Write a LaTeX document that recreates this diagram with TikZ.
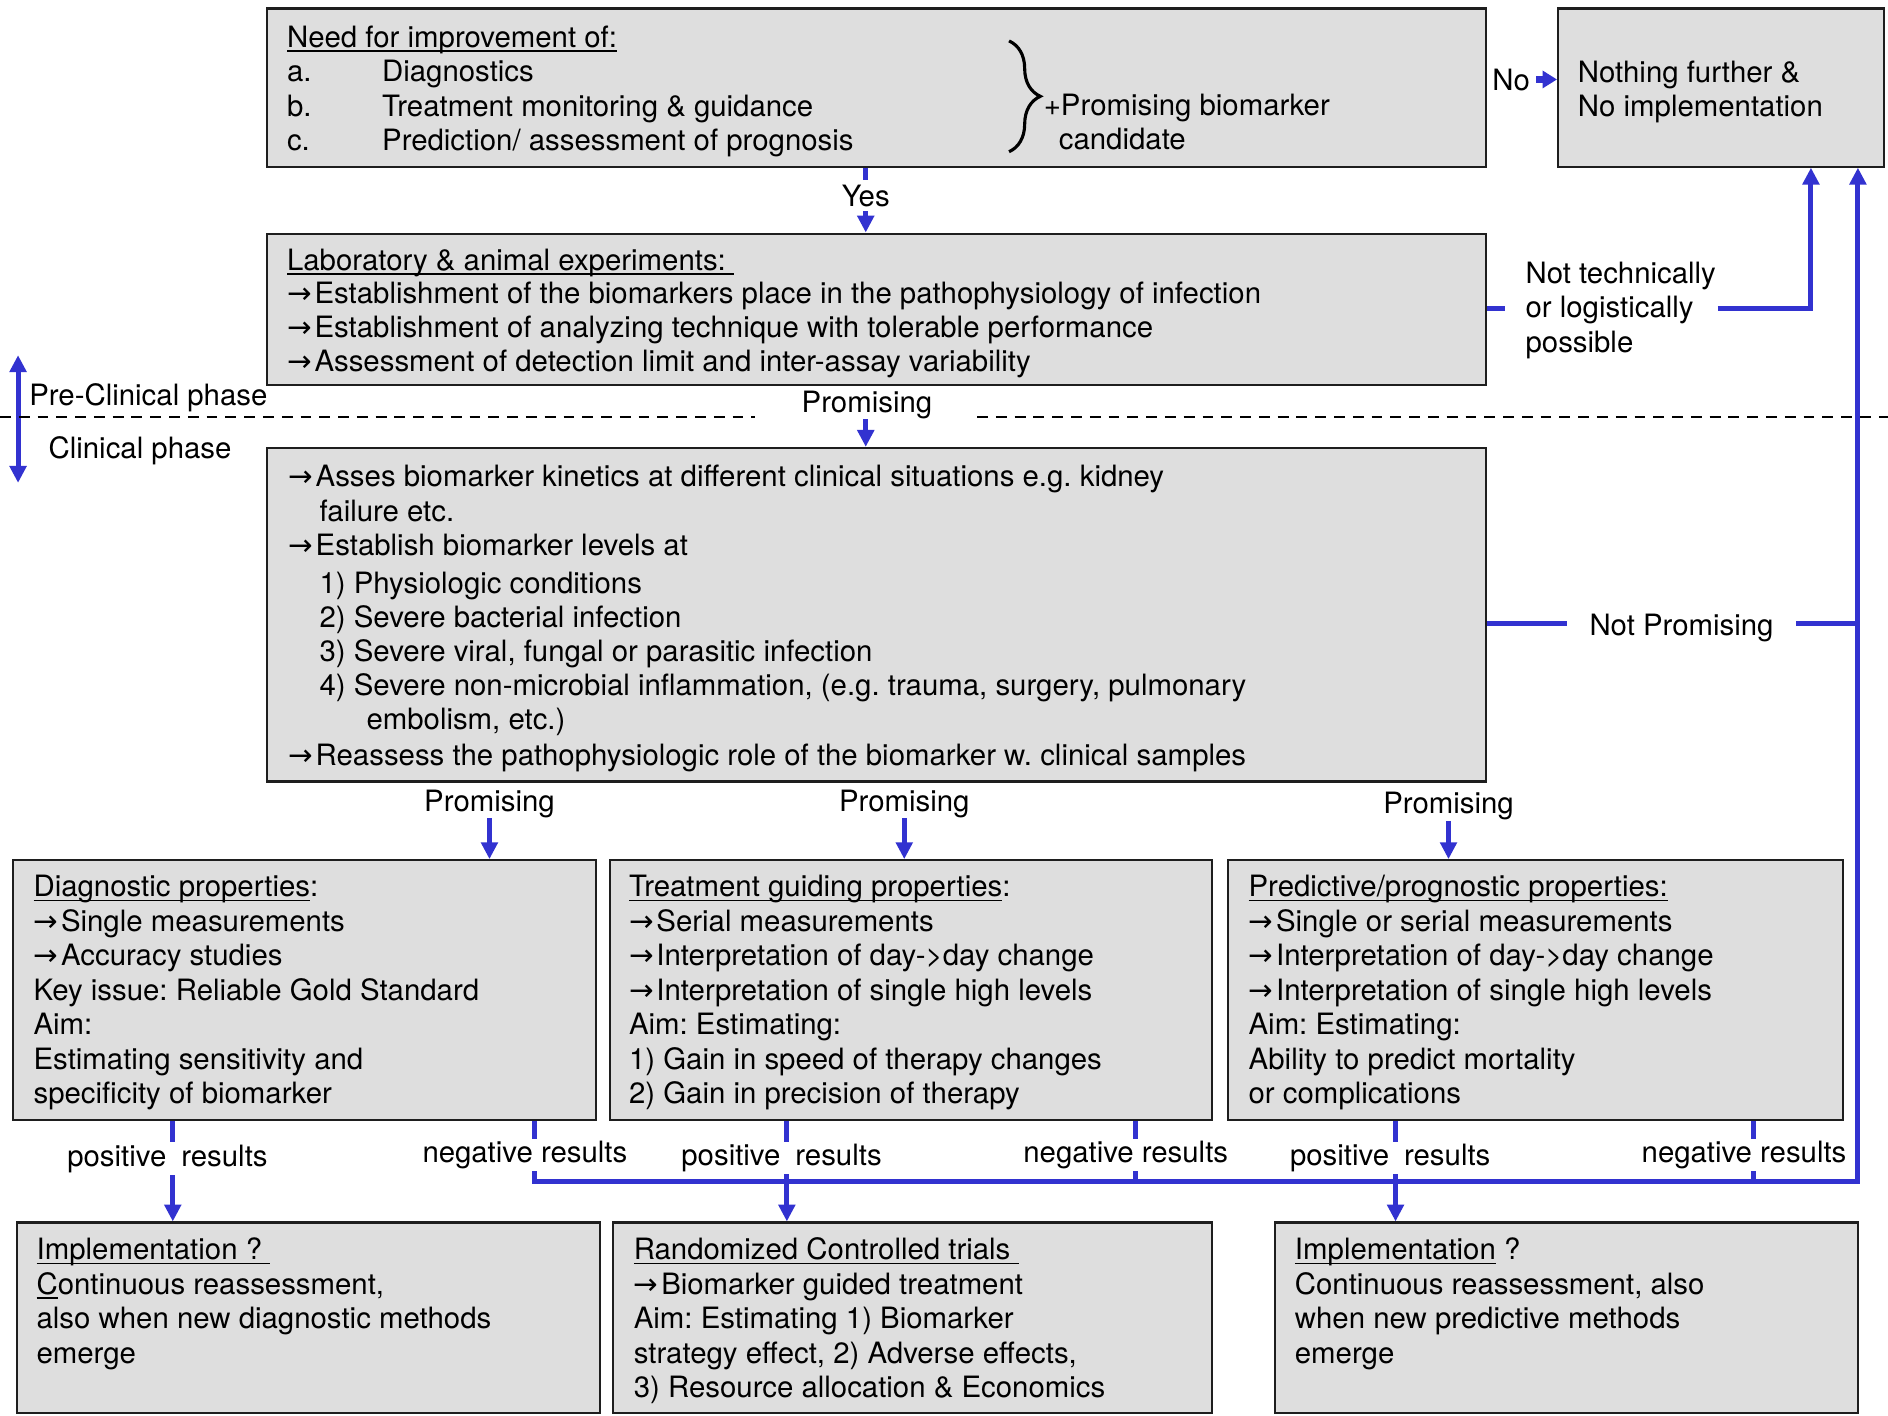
\documentclass[tikz,border=0pt]{standalone}
\usepackage{fontspec}
\setmainfont{TeX Gyre Heros}
\newfontfamily\arrfont{DejaVu Sans}
\usetikzlibrary{arrows.meta,fit,decorations.pathreplacing}
\definecolor{bl}{RGB}{50,50,208}
\definecolor{boxgray}{RGB}{222,222,222}
\definecolor{boxline}{RGB}{30,30,30}
\newcommand\rarr{\makebox[11.4pt][l]{\arrfont →}}
\newsavebox\ulbox
\newcommand\myul[1]{\sbox\ulbox{#1}\rlap{\rule[-1.8pt]{\wd\ulbox}{0.7pt}}\usebox\ulbox}
\newcommand\fl{\rule{0pt}{10pt}}
\frenchspacing
\begin{document}
\frenchspacing
\begin{tikzpicture}[x=0.5pt,y=-0.5pt,
  box/.style={draw=boxline,line width=0.9pt,fill=boxgray,inner sep=0pt},
  txt/.style={anchor=north west,inner sep=0pt,align=left,font=\fontsize{12.2}{14.3}\selectfont\frenchspacing},
  lbl/.style={inner sep=0pt,font=\fontsize{12.2}{14.3}\selectfont},
  wlbl/.style={lbl,fill=white,inner xsep=0.5pt,inner ysep=1pt},
  bline/.style={draw=bl,line width=2.1pt},
  conn/.style={bline,-{Triangle[length=7pt,width=6.8pt]}},
  noconn/.style={draw=bl,line width=2.6pt,-{Triangle[length=6pt,width=7pt]}},
  dashline/.style={draw=black,line width=0.9pt,dash pattern=on 4.5pt off 3.3pt}]
\useasboundingbox (0,0) rectangle (1568,1176);
\fill[white] (0,0) rectangle (1568,1176);

% column coordinates
\coordinate (xYes) at (719,0);
\coordinate (xDP) at (143.5,0);
\coordinate (xDN) at (444,0);
\coordinate (xTP) at (653.5,0);
\coordinate (xTN) at (943,0);
\coordinate (xPP) at (1159,0);
\coordinate (xPN) at (1456.6,0);
\coordinate (busY) at (0,981);
\coordinate (busR) at (1543,981);

% boxes
\node[box,fit={(222,7) (1234,138.4)}] (top) {};
\node[box,fit={(1294,7) (1565,138.4)}] (nothing) {};
\node[box,fit={(222,194) (1234,320)}] (lab) {};
\node[box,fit={(222,372) (1234,649)}] (big) {};
\node[box,fit={(11,714.4) (495,930.3)}] (diag) {};
\node[box,fit={(506.6,714.4) (1006.6,930.3)}] (treat) {};
\node[box,fit={(1020,714.4) (1530.6,930.3)}] (pred) {};
\node[box,fit={(14,1015.3) (498.5,1173.6)}] (impl1) {};
\node[box,fit={(509,1015.3) (1006.6,1173.6)}] (rct) {};
\node[box,fit={(1059,1015.3) (1543,1173.6)}] (impl2) {};

% texts
\node[txt] (toptxt) at (238,18.8) {\fl\myul{Need for improvement of:}\\
\makebox[39.5pt][l]{a.}Diagnostics\\
\makebox[39.5pt][l]{b.}Treatment monitoring \& guidance\\
\makebox[39.5pt][l]{c.}Prediction/ assessment of prognosis};
\draw[line width=1.3pt,decorate,decoration={brace,amplitude=13pt}] (838,34) -- (838,126);
\node[txt] (cand) at (866.5,75.5) {\fl+Promising biomarker\\\hspace*{6.25pt}candidate};
\node[txt] (nothtxt) at (1310,47.8) {\fl Nothing further \&\\No implementation};

\node[txt,font=\fontsize{12.2}{14}\selectfont\frenchspacing] (labtxt) at (238,204) {\fl\myul{Laboratory \& animal experiments: }\\
\rarr Establishment of the biomarkers place in the pathophysiology of infection\\
\rarr Establishment of analyzing technique with tolerable performance\\
\rarr Assessment of detection limit and inter-assay variability};
\node[txt] (nttxt) at (1266.6,215) {\fl Not technically\\or logistically\\possible};

\node[txt,font=\fontsize{12.2}{14.15}\selectfont\frenchspacing] (bigtxt) at (239,384) {\fl\rarr Asses biomarker kinetics at different clinical situations e.g. kidney\\
\hspace*{13pt}failure etc.\\
\rarr Establish biomarker levels at\\[1.6pt]
\hspace*{13pt}1) Physiologic conditions\\
\hspace*{13pt}2) Severe bacterial infection\\
\hspace*{13pt}3) Severe viral, fungal or parasitic infection\\
\hspace*{13pt}4) Severe non-microbial inflammation, (e.g. trauma, surgery, pulmonary\\
\hspace*{32.5pt}embolism, etc.)\\[0.8pt]
\rarr Reassess the pathophysiologic role of the biomarker w. clinical samples};

\node[txt] (diagtxt) at (27.5,724.5) {\fl\myul{Diagnostic properties}:\\
\rarr Single measurements\\
\rarr Accuracy studies\\
Key issue: Reliable Gold Standard\\
Aim:\\
Estimating sensitivity and\\
specificity of biomarker};
\node[txt] (treattxt) at (522,724.5) {\fl\myul{Treatment guiding properties}:\\
\rarr Serial measurements\\
\rarr Interpretation of day->day change\\
\rarr Interpretation of single high levels\\
Aim: Estimating:\\
1) Gain in speed of therapy changes\\
2) Gain in precision of therapy};
\node[txt] (predtxt) at (1036.6,724.5) {\fl\myul{Predictive/prognostic properties:}\\
\rarr Single or serial measurements\\
\rarr Interpretation of day->day change\\
\rarr Interpretation of single high levels\\
Aim: Estimating:\\
Ability to predict mortality\\
or complications};

\node[txt] (impl1txt) at (30,1026) {\fl\myul{Implementation ? }\\
\myul{C}ontinuous reassessment,\\
also when new diagnostic methods\\
emerge};
\node[txt] (rcttxt) at (526,1026) {\fl\myul{Randomized Controlled trials }\\
\rarr Biomarker guided treatment\\
Aim: Estimating 1) Biomarker\\
strategy effect, 2) Adverse effects,\\
3) Resource allocation \& Economics};
\node[txt] (impl2txt) at (1075,1026) {\fl\myul{Implementation} ?\\
Continuous reassessment, also\\
when new predictive methods\\
emerge};

% phases
\coordinate (phTop) at (15,295);
\coordinate (phBot) at (15,401);
\draw[bline,{Triangle[length=7pt,width=6.8pt]}-{Triangle[length=7pt,width=6.8pt]}] (phTop) -- (phBot);
\node[lbl,anchor=base west] (pre) at (24,337) {Pre-Clinical phase};
\node[lbl,anchor=base west] (clin) at (40,381) {Clinical phase};
\draw[dashline] (0,346) -- (627,346);
\draw[dashline] (811.5,346) -- (1568,346);

% Yes / No
\draw[conn] (top.south -| xYes) -- node[lbl,fill=white,inner sep=2pt,pos=0.43] (yes) {Yes} (lab.north -| xYes);
\node[lbl,anchor=base west] (nolbl) at (1239,75) {No};
\coordinate (noA) at (1276,66);
\draw[noconn] (noA) -- (nothing.west |- noA);

% not technically
\coordinate (ntY) at (0,256);
\draw[bline] (lab.east |- ntY) -- ++(15,0);
\coordinate (ntA) at (1426.6,256);
\coordinate (ntB) at (1504,256);
\draw[conn] (ntA) -- (ntB) -- (nothing.south -| ntB);

% promising (top)
\node[lbl,anchor=base] (promT) at (720,342.5) {Promising};
\draw[conn] (promT.south -| xYes) -- (big.north -| xYes);

% not promising
\coordinate (npY) at (0,517.6);
\draw[bline] (big.east |- npY) -- (busR |- npY);
\node[lbl,fill=white,inner xsep=9.5pt,inner ysep=2pt,anchor=base] (nplbl) at (1396.5,527.6) {Not Promising};

% promising (middle)
\node[lbl,anchor=base] (pr1) at (406.5,674) {Promising};
\node[lbl,anchor=base] (pr2) at (751,674) {Promising};
\node[lbl,anchor=base] (pr3) at (1203,676) {Promising};
\draw[conn] (pr1.south) -- (pr1.south |- diag.north);
\draw[conn] (pr2.south) -- (pr2.south |- treat.north);
\draw[conn] (pr3.south) -- (pr3.south |- pred.north);

% results
\draw[conn] (diag.south -| xDP) -- (impl1.north -| xDP);
\draw[conn] (treat.south -| xTP) -- (rct.north -| xTP);
\draw[conn] (pred.south -| xPP) -- (impl2.north -| xPP);
\draw[bline] (treat.south -| xTN) -- (xTN |- busY);
\draw[bline] (pred.south -| xPN) -- (xPN |- busY);
\draw[conn] (diag.south -| xDN) -- (xDN |- busY) -- (busR) -- (nothing.south -| busR);

\node[wlbl,anchor=base west] (dpos) at (54.5,968.5) {positive\hspace*{6.25pt}results};
\node[wlbl,anchor=base west] (tpos) at (564.5,968) {positive\hspace*{6.25pt}results};
\node[wlbl,anchor=base west] (ppos) at (1070,968) {positive\hspace*{6.25pt}results};
\node[wlbl,anchor=base west] (dneg) at (349.5,965.5) {negative results};
\node[wlbl,anchor=base west] (tneg) at (848.5,965.5) {negative results};
\node[wlbl,anchor=base west] (pneg) at (1362,965.5) {negative results};
\end{tikzpicture}
\end{document}
